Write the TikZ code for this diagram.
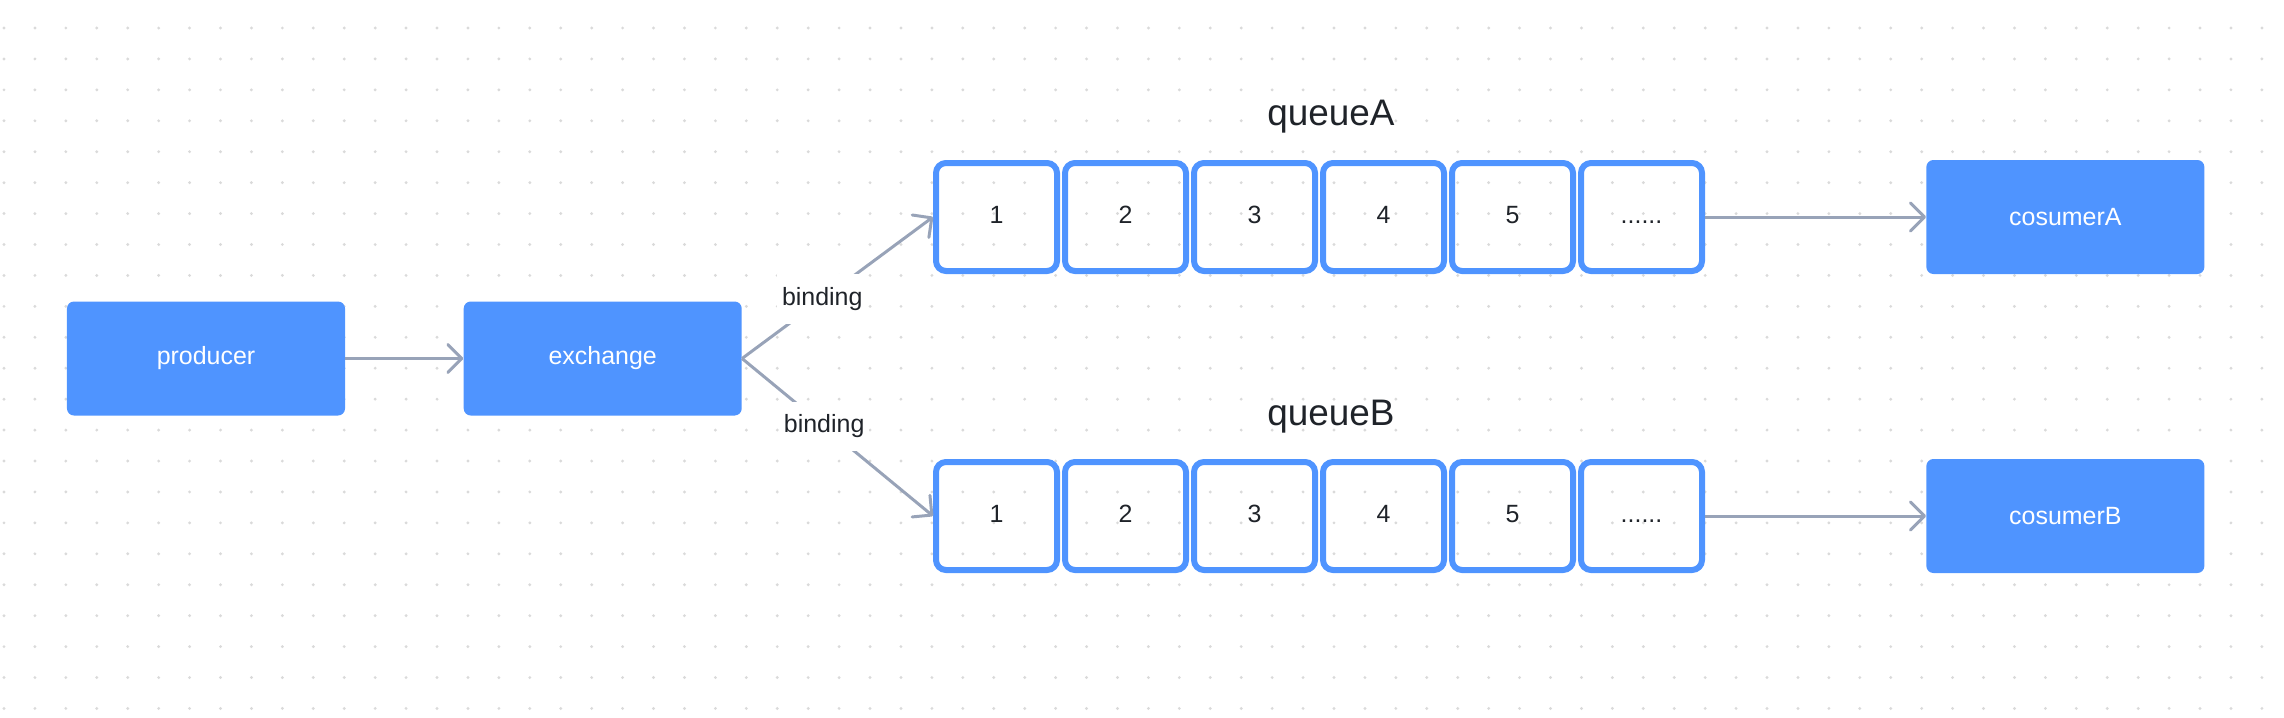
\documentclass[tikz,border=0pt]{standalone}
\usepackage{fontspec}
\setmainfont{Liberation Sans}
\usetikzlibrary{positioning,arrows.meta}

\definecolor{boxblue}{HTML}{4F94FF}
\definecolor{linegray}{HTML}{98A3B8}
\definecolor{dotgray}{HTML}{DADADA}
\definecolor{txtdark}{HTML}{1F2329}

\tikzset{
  box/.style={rectangle,fill=boxblue,rounded corners=1.4mm,minimum width=55.6mm,minimum height=22.8mm,
    text=white,font=\fontsize{14.2}{17}\selectfont},
  slot/.style={rectangle,draw=boxblue,line width=1.2mm,rounded corners=2mm,minimum width=24.2mm,
    minimum height=21.6mm,text height=0.72em,text depth=0pt,text=txtdark,font=\fontsize{14.2}{17}\selectfont},
  arr/.style={draw=linegray,line width=0.6mm,-{Straight Barb[length=2.8mm,width=5.6mm,round]}},
  bind/.style={fill=white,inner xsep=1mm,inner ysep=2.6mm,text=txtdark,font=\fontsize{14.2}{17}\selectfont},
  qtitle/.style={anchor=base,text=txtdark,font=\fontsize{21}{25}\selectfont}
}

\begin{document}
\begin{tikzpicture}[x=0.2mm,y=-0.2mm]
  \useasboundingbox (0,0) rectangle (2284,718);
  % dotted canvas
  \foreach \i in {0,...,73}{\foreach \j in {0,...,22}{
    \fill[dotgray] ({4+30.93*\i},{28+30.93*\j}) circle (0.32mm);}}

  % producer side
  \node[box] (producer) at (206,358.5) {producer};
  \node[box] (exchange) [right=23.6mm of producer] {exchange};
  \draw[arr] (producer) -- (exchange);

  % queue A
  \node[qtitle] (titleA) at (1331,125) {queueA};
  \node[slot] (a1) at (996.5,217) {1};
  \node[slot] (a2) [right=0.4mm of a1] {2};
  \node[slot] (a3) [right=0.4mm of a2] {3};
  \node[slot] (a4) [right=0.4mm of a3] {4};
  \node[slot] (a5) [right=0.4mm of a4] {5};
  \node[slot] (a6) [right=0.4mm of a5] {......};
  \node[box] (cosumerA) [right=44.2mm of a6] {cosumerA};

  % queue B
  \node[qtitle] (titleB) at (1331,425) {queueB};
  \node[slot] (b1) at (996.5,516) {1};
  \node[slot] (b2) [right=0.4mm of b1] {2};
  \node[slot] (b3) [right=0.4mm of b2] {3};
  \node[slot] (b4) [right=0.4mm of b3] {4};
  \node[slot] (b5) [right=0.4mm of b4] {5};
  \node[slot] (b6) [right=0.4mm of b5] {......};
  \node[box] (cosumerB) [right=44.2mm of b6] {cosumerB};

  % bindings and consumers
  \draw[arr] (exchange.east) -- node[bind,pos=0.42] (bindA) {binding} (a1.west);
  \draw[arr] (exchange.east) -- node[bind,pos=0.43] (bindB) {binding} (b1.west);
  \draw[arr] (a6) -- (cosumerA);
  \draw[arr] (b6) -- (cosumerB);
\end{tikzpicture}
\end{document}
